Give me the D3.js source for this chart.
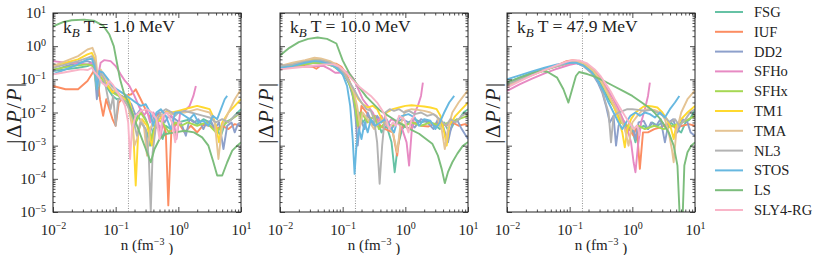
<!DOCTYPE html>
<html>
<head>
<meta charset="utf-8">
<script src="https://cdnjs.cloudflare.com/ajax/libs/d3/7.8.5/d3.min.js"></script>
<style>
  body { margin: 0; background: #fff; }
</style>
</head>
<body>
<div id="chart"></div>
<script>
// Relative pressure difference vs density, three temperatures
// all curve points are [log10 n, log10 |dP/P|]

var eosNames = ["FSG", "IUF", "DD2", "SFHo", "SFHx", "TM1", "TMA", "NL3", "STOS", "LS", "SLY4-RG"];
var eosColors = ["#66c2a5", "#fc8d62", "#8da0cb", "#e78ac3", "#a6d854", "#ffd92f",
                 "#e5c494", "#b3b3b3", "#67b8e0", "#7cbd7c", "#f9b5c8"];
var temps = ["1.0", "10.0", "47.9"];
var nSat = 0.16;
var xTickExps = [-2, -1, 0, 1];
var yTickExps = [1, 0, -1, -2, -3, -4, -5];

var curvesT1 = [
  // FSG
  [[-2,-0.75],[-1.8,-0.7],[-1.6,-0.65],[-1.45,-0.6],[-1.38,-0.55],[-1.32,-0.7],[-1.28,-1.5],[-1.25,-1.0],[-1.2,-1.1],[-1.12,-1.3],[-1.05,-1.5],[-0.98,-1.6],[-0.9,-1.55],[-0.82,-1.7],[-0.75,-2.0],[-0.7,-2.4],[-0.65,-2.1],[-0.58,-2.3],[-0.5,-2.6],[-0.45,-3.0],[-0.4,-2.5],[-0.3,-2.4],[-0.25,-2.8],[-0.2,-2.4],[-0.12,-2.5],[0,-2.3],[0.1,-2.25],[0.2,-2.2],[0.3,-2.35],[0.4,-2.2],[0.5,-2.3],[0.6,-2.5],[0.68,-2.7],[0.75,-2.3],[0.85,-2.2],[0.92,-2.05],[1,-1.9]],
  // IUF
  [[-2,-1.2],[-1.8,-1.3],[-1.6,-1.3],[-1.45,-1.05],[-1.35,-0.75],[-1.3,-0.8],[-1.25,-1.6],[-1.2,-2.1],[-1.15,-1.6],[-1.05,-2.2],[-1.0,-2.4],[-0.95,-1.7],[-0.85,-1.5],[-0.75,-1.45],[-0.68,-1.3],[-0.6,-1.6],[-0.5,-2.0],[-0.4,-2.3],[-0.3,-2.0],[-0.2,-2.6],[-0.16,-4.8],[-0.11,-2.5],[0,-2.3],[0.1,-2.6],[0.2,-2.4],[0.3,-2.6],[0.4,-2.37],[0.5,-2.4],[0.6,-2.5],[0.7,-2.4],[0.8,-2.5],[0.9,-2.35],[1,-2.4]],
  // DD2
  [[-2,-0.75],[-1.8,-0.6],[-1.6,-0.5],[-1.45,-0.45],[-1.38,-0.5],[-1.33,-0.9],[-1.3,-1.6],[-1.27,-1.0],[-1.2,-1.1],[-1.12,-1.2],[-1.05,-1.35],[-0.98,-1.45],[-0.9,-1.5],[-0.82,-1.6],[-0.75,-1.75],[-0.68,-2.1],[-0.6,-1.9],[-0.52,-2.2],[-0.45,-2.6],[-0.38,-2.1],[-0.3,-2.0],[-0.22,-2.3],[-0.15,-2.1],[-0.05,-2.2],[0.05,-2.35],[0.12,-2.7],[0.18,-2.2],[0.25,-2.3],[0.32,-2.2],[0.4,-2.5],[0.45,-2.3],[0.52,-2.25],[0.58,-2.5],[0.65,-2.3],[0.72,-3.1],[0.78,-2.4],[0.85,-2.3],[0.9,-2.6],[0.95,-2.35],[1,-2.4]],
  // SFHo
  [[-2,-0.45],[-1.8,-0.5],[-1.6,-0.52],[-1.45,-0.55],[-1.35,-0.5],[-1.28,-0.9],[-1.24,-0.5],[-1.18,-0.42],[-1.08,-0.45],[-1.0,-0.6],[-0.92,-0.85],[-0.85,-1.05],[-0.78,-1.2],[-0.7,-1.5],[-0.62,-1.85],[-0.55,-2.1],[-0.5,-1.95],[-0.45,-2.3],[-0.4,-2.0],[-0.33,-2.2],[-0.28,-2.7],[-0.22,-2.0],[-0.15,-1.95],[-0.08,-2.2],[-0.03,-2.8],[0.03,-2.0],[0.1,-1.95],[0.18,-1.8],[0.24,-1.5],[0.28,-1.2]],
  // SFHx
  [[-2,-0.7],[-1.7,-0.6],[-1.45,-0.55],[-1.35,-0.6],[-1.3,-1.3],[-1.25,-0.9],[-1.15,-1.15],[-1.05,-1.4],[-0.95,-1.5],[-0.85,-1.65],[-0.75,-1.9],[-0.68,-2.3],[-0.6,-2.0],[-0.5,-2.3],[-0.42,-2.8],[-0.35,-2.2],[-0.25,-2.3],[-0.15,-2.6],[-0.05,-2.3],[0.05,-2.4],[0.15,-2.3],[0.3,-2.4],[0.45,-2.3],[0.6,-2.6],[0.7,-2.4],[0.85,-2.2],[1,-2.0]],
  // TM1
  [[-2,-0.6],[-1.8,-0.5],[-1.6,-0.4],[-1.45,-0.25],[-1.38,-0.2],[-1.33,-0.4],[-1.3,-1.2],[-1.26,-0.8],[-1.2,-0.95],[-1.12,-1.2],[-1.05,-1.4],[-1.0,-1.3],[-0.92,-1.5],[-0.85,-1.6],[-0.8,-1.5],[-0.75,-1.9],[-0.72,-2.5],[-0.68,-4.2],[-0.64,-2.6],[-0.58,-2.2],[-0.5,-2.4],[-0.42,-3.0],[-0.35,-2.3],[-0.25,-2.1],[-0.18,-1.95],[-0.1,-2.0],[0,-1.95],[0.1,-1.9],[0.2,-1.85],[0.3,-1.8],[0.4,-1.85],[0.5,-1.9],[0.55,-2.1],[0.6,-2.4],[0.65,-2.9],[0.7,-2.3],[0.8,-2.0],[0.9,-1.8],[1,-1.6]],
  // TMA
  [[-2,-0.6],[-1.8,-0.45],[-1.6,-0.3],[-1.45,-0.1],[-1.37,-0.05],[-1.32,-0.3],[-1.28,-1.1],[-1.24,-0.7],[-1.18,-0.9],[-1.1,-1.15],[-1.02,-1.3],[-0.95,-1.45],[-0.88,-1.6],[-0.8,-1.8],[-0.74,-2.4],[-0.7,-3.0],[-0.66,-2.8],[-0.6,-2.2],[-0.55,-2.4],[-0.5,-3.3],[-0.45,-2.5],[-0.38,-2.2],[-0.3,-2.1],[-0.2,-2.0],[-0.1,-2.05],[0,-2.0],[0.1,-2.0],[0.2,-1.95],[0.3,-1.9],[0.4,-1.95],[0.5,-2.0],[0.58,-2.3],[0.64,-3.4],[0.7,-2.4],[0.8,-2.0],[0.9,-1.6],[1,-1.3]],
  // NL3
  [[-2,-0.65],[-1.8,-0.55],[-1.6,-0.45],[-1.45,-0.35],[-1.38,-0.3],[-1.33,-0.5],[-1.28,-1.2],[-1.24,-0.8],[-1.18,-1.0],[-1.12,-1.6],[-1.08,-1.9],[-1.04,-1.5],[-1.0,-2.4],[-0.96,-1.6],[-0.9,-1.6],[-0.84,-1.7],[-0.78,-1.9],[-0.72,-2.2],[-0.66,-2.7],[-0.6,-2.3],[-0.52,-2.5],[-0.47,-3.4],[-0.44,-5.0],[-0.41,-3.2],[-0.35,-2.3],[-0.28,-2.0],[-0.2,-1.9],[-0.1,-2.0],[-0.05,-2.1],[0,-2.0],[0.1,-1.95],[0.2,-2.0],[0.3,-2.05],[0.4,-2.1],[0.5,-2.15],[0.6,-2.3],[0.7,-2.2],[0.8,-2.3],[0.9,-2.1],[1,-2.0]],
  // STOS
  [[-2,-0.85],[-1.8,-0.7],[-1.6,-0.55],[-1.45,-0.4],[-1.38,-0.38],[-1.34,-0.6],[-1.3,-1.3],[-1.26,-0.75],[-1.2,-0.8],[-1.12,-1.0],[-1.05,-1.2],[-0.98,-1.3],[-0.9,-1.4],[-0.82,-1.5],[-0.75,-1.6],[-0.68,-1.7],[-0.6,-1.8],[-0.52,-1.75],[-0.45,-2.0],[-0.4,-2.4],[-0.35,-2.0],[-0.28,-1.9],[-0.2,-2.1],[-0.12,-2.5],[-0.05,-2.0],[0.02,-2.0],[0.1,-2.1],[0.18,-2.2],[0.25,-2.05],[0.32,-2.3],[0.4,-2.25],[0.48,-2.4],[0.55,-2.1],[0.62,-2.2],[0.68,-1.9],[0.74,-1.6],[0.78,-1.5]],
  // LS
  [[-2,0.6],[-1.85,0.72],[-1.7,0.78],[-1.5,0.8],[-1.35,0.77],[-1.2,0.62],[-1.1,0.35],[-1.03,0.0],[-0.98,-0.5],[-0.93,-1.0],[-0.87,-1.4],[-0.8,-1.7],[-0.72,-2.1],[-0.62,-2.6],[-0.52,-3.1],[-0.44,-3.5],[-0.38,-3.1],[-0.3,-2.8],[-0.2,-2.65],[-0.05,-2.6],[0.1,-2.55],[0.25,-2.6],[0.38,-2.75],[0.48,-3.0],[0.56,-3.5],[0.62,-3.9],[0.7,-3.9],[0.78,-3.5],[0.86,-3.15],[0.94,-3.0],[1,-2.9]],
  // SLY4-RG
  [[-2,-0.85],[-1.85,-0.8],[-1.7,-0.75],[-1.55,-0.7],[-1.45,-0.72],[-1.38,-0.65],[-1.33,-0.8],[-1.28,-0.9],[-1.22,-1.1],[-1.15,-1.2],[-1.1,-1.05],[-1.05,-1.15],[-1.0,-1.3],[-0.95,-1.45],[-0.9,-1.6],[-0.85,-1.8],[-0.8,-2.3],[-0.77,-3.4],[-0.74,-2.5],[-0.68,-2.1],[-0.6,-1.95],[-0.5,-1.9],[-0.42,-2.0],[-0.35,-2.2],[-0.3,-2.8],[-0.25,-2.1],[-0.18,-2.0],[-0.1,-2.3],[-0.05,-2.9],[0,-2.3],[0.05,-2.3]]
];

var curvesT10 = [
  // FSG
  [[-2,-0.62],[-1.8,-0.6],[-1.6,-0.55],[-1.45,-0.5],[-1.3,-0.52],[-1.15,-0.6],[-1.05,-0.75],[-0.95,-0.95],[-0.88,-1.2],[-0.82,-1.6],[-0.78,-2.3],[-0.74,-2.0],[-0.68,-2.3],[-0.6,-2.1],[-0.52,-2.3],[-0.45,-2.2],[-0.38,-2.6],[-0.3,-2.4],[-0.22,-2.9],[-0.17,-3.8],[-0.12,-3.0],[-0.05,-2.5],[0.05,-2.3],[0.15,-2.2],[0.25,-2.3],[0.35,-2.25],[0.45,-2.35],[0.55,-2.5],[0.62,-2.3],[0.7,-2.6],[0.78,-2.3],[0.86,-2.2],[0.93,-2.0],[1,-1.9]],
  // IUF
  [[-2,-0.62],[-1.8,-0.6],[-1.6,-0.6],[-1.48,-0.62],[-1.42,-0.68],[-1.35,-0.58],[-1.2,-0.52],[-1.1,-0.53],[-1.02,-0.62],[-0.95,-0.8],[-0.88,-1.1],[-0.82,-1.5],[-0.78,-2.0],[-0.74,-2.6],[-0.7,-1.8],[-0.62,-2.0],[-0.55,-2.2],[-0.48,-2.1],[-0.4,-2.4],[-0.32,-2.5],[-0.2,-2.6],[-0.13,-3.3],[-0.08,-2.5],[-0.02,-2.4],[0.08,-2.5],[0.15,-2.3],[0.25,-2.4],[0.37,-2.42],[0.45,-2.35],[0.55,-2.3],[0.65,-2.4],[0.75,-2.3],[0.85,-2.4],[0.95,-2.35],[1,-2.4]],
  // DD2
  [[-2,-0.62],[-1.8,-0.58],[-1.6,-0.52],[-1.45,-0.45],[-1.35,-0.45],[-1.2,-0.55],[-1.08,-0.65],[-0.98,-0.85],[-0.9,-1.1],[-0.84,-1.5],[-0.8,-2.0],[-0.76,-3.0],[-0.72,-2.2],[-0.65,-2.5],[-0.6,-2.0],[-0.52,-2.4],[-0.45,-2.1],[-0.38,-2.3],[-0.3,-2.2],[-0.22,-2.5],[-0.15,-2.3],[-0.05,-2.2],[0.05,-2.3],[0.15,-2.45],[0.25,-2.2],[0.35,-2.3],[0.45,-2.5],[0.52,-2.2],[0.6,-2.4],[0.68,-2.9],[0.75,-2.3],[0.82,-2.2],[0.9,-2.5],[1,-2.8]],
  // SFHo
  [[-2,-0.65],[-1.8,-0.63],[-1.6,-0.62],[-1.45,-0.6],[-1.3,-0.6],[-1.2,-0.7],[-1.12,-0.8],[-1.05,-0.8],[-0.98,-0.75],[-0.9,-0.8],[-0.82,-1.0],[-0.75,-1.3],[-0.68,-1.6],[-0.6,-1.8],[-0.52,-2.0],[-0.45,-2.3],[-0.38,-2.1],[-0.3,-2.4],[-0.22,-2.2],[-0.12,-2.3],[-0.05,-2.5],[0.02,-2.9],[0.06,-3.6],[0.1,-2.6],[0.15,-2.0],[0.2,-1.8],[0.25,-1.5],[0.28,-1.1]],
  // SFHx
  [[-2,-0.63],[-1.7,-0.58],[-1.45,-0.5],[-1.3,-0.5],[-1.15,-0.6],[-1.02,-0.75],[-0.92,-1.0],[-0.85,-1.35],[-0.8,-1.8],[-0.76,-2.4],[-0.7,-2.0],[-0.6,-2.3],[-0.5,-2.1],[-0.42,-2.5],[-0.32,-2.3],[-0.22,-2.4],[-0.1,-2.3],[0,-2.4],[0.1,-2.3],[0.25,-2.4],[0.4,-2.3],[0.55,-2.4],[0.7,-2.3],[0.85,-2.2],[1,-2.1]],
  // TM1
  [[-2,-0.62],[-1.8,-0.55],[-1.6,-0.45],[-1.45,-0.4],[-1.35,-0.42],[-1.2,-0.5],[-1.08,-0.62],[-0.98,-0.8],[-0.9,-1.05],[-0.82,-1.35],[-0.75,-1.6],[-0.68,-1.75],[-0.6,-1.85],[-0.52,-1.8],[-0.45,-1.9],[-0.4,-2.1],[-0.35,-2.3],[-0.3,-2.0],[-0.2,-1.9],[-0.1,-1.85],[0,-1.8],[0.1,-1.78],[0.2,-1.8],[0.3,-1.82],[0.4,-1.85],[0.5,-1.9],[0.56,-2.1],[0.62,-2.6],[0.66,-3.0],[0.7,-2.4],[0.8,-2.1],[0.9,-1.9],[1,-1.7]],
  // TMA
  [[-2,-0.6],[-1.8,-0.5],[-1.6,-0.42],[-1.45,-0.35],[-1.35,-0.37],[-1.2,-0.45],[-1.08,-0.58],[-0.98,-0.8],[-0.9,-1.05],[-0.82,-1.4],[-0.77,-1.8],[-0.72,-2.4],[-0.68,-2.0],[-0.6,-2.2],[-0.5,-2.5],[-0.42,-2.3],[-0.35,-2.2],[-0.28,-2.4],[-0.2,-2.6],[-0.13,-3.2],[-0.08,-2.4],[0,-1.95],[0.1,-1.9],[0.2,-1.92],[0.3,-1.95],[0.4,-2.0],[0.5,-2.1],[0.58,-2.5],[0.63,-3.1],[0.68,-2.5],[0.75,-2.0],[0.85,-1.7],[0.93,-1.5],[1,-1.33]],
  // NL3
  [[-2,-0.6],[-1.8,-0.55],[-1.6,-0.47],[-1.45,-0.42],[-1.35,-0.42],[-1.2,-0.5],[-1.08,-0.62],[-0.98,-0.82],[-0.9,-1.05],[-0.82,-1.3],[-0.75,-1.55],[-0.7,-1.7],[-0.62,-1.9],[-0.55,-1.95],[-0.5,-2.2],[-0.45,-2.9],[-0.41,-4.15],[-0.37,-3.0],[-0.32,-2.0],[-0.25,-1.9],[-0.18,-1.95],[-0.1,-1.9],[-0.02,-2.0],[0.06,-1.95],[0.15,-2.05],[0.25,-2.0],[0.35,-2.1],[0.45,-2.05],[0.55,-2.2],[0.65,-2.4],[0.72,-2.2],[0.8,-2.3],[0.9,-2.1],[1,-2.0]],
  // STOS
  [[-2,-0.65],[-1.8,-0.6],[-1.6,-0.5],[-1.45,-0.45],[-1.35,-0.47],[-1.2,-0.55],[-1.1,-0.65],[-1.0,-0.85],[-0.93,-1.2],[-0.88,-1.8],[-0.84,-2.8],[-0.81,-3.85],[-0.78,-3.0],[-0.74,-2.5],[-0.7,-2.8],[-0.65,-2.3],[-0.6,-2.6],[-0.55,-2.2],[-0.48,-2.4],[-0.4,-2.3],[-0.32,-2.2],[-0.25,-2.4],[-0.18,-2.6],[-0.12,-2.2],[-0.05,-2.1],[0.05,-2.05],[0.15,-2.15],[0.22,-2.4],[0.3,-2.2],[0.4,-2.25],[0.48,-2.5],[0.55,-2.3],[0.62,-2.0],[0.7,-1.7],[0.78,-1.5]],
  // LS
  [[-2,-0.28],[-1.85,-0.05],[-1.7,0.12],[-1.55,0.22],[-1.4,0.26],[-1.25,0.22],[-1.1,0.08],[-1.0,-0.43],[-0.89,-0.83],[-0.78,-1.13],[-0.62,-1.53],[-0.41,-1.93],[-0.2,-2.19],[0.01,-2.44],[0.22,-2.64],[0.43,-2.94],[0.52,-3.3],[0.58,-3.7],[0.63,-4.13],[0.68,-3.8],[0.75,-3.5],[0.83,-3.24],[0.92,-3.0],[1,-2.89]],
  // SLY4-RG
  [[-2,-0.7],[-1.8,-0.66],[-1.6,-0.62],[-1.45,-0.58],[-1.3,-0.55],[-1.15,-0.55],[-1.05,-0.62],[-0.95,-0.78],[-0.85,-1.0],[-0.75,-1.2],[-0.65,-1.35],[-0.55,-1.5],[-0.45,-1.7],[-0.38,-1.9],[-0.32,-2.1],[-0.26,-2.5],[-0.2,-2.3],[-0.15,-2.4],[-0.1,-2.1],[-0.02,-2.2],[0.05,-2.6],[0.1,-2.2],[0.15,-2.1]]
];

var curvesT48 = [
  // FSG
  [[-2,-1.1],[-1.8,-0.95],[-1.6,-0.8],[-1.4,-0.68],[-1.2,-0.57],[-1.0,-0.5],[-0.88,-0.5],[-0.75,-0.6],[-0.62,-0.8],[-0.52,-1.05],[-0.45,-1.35],[-0.38,-1.6],[-0.3,-1.8],[-0.22,-2.1],[-0.15,-2.3],[-0.08,-2.6],[-0.02,-2.4],[0.05,-2.9],[0.1,-2.5],[0.18,-2.4],[0.25,-2.5],[0.32,-2.3],[0.4,-2.4],[0.48,-2.3],[0.55,-2.5],[0.62,-2.3],[0.7,-2.5],[0.78,-2.6],[0.85,-2.3],[0.92,-2.2],[1,-1.9]],
  // IUF
  [[-2,-1.2],[-1.8,-1.02],[-1.6,-0.87],[-1.4,-0.72],[-1.2,-0.58],[-1.05,-0.45],[-0.95,-0.42],[-0.85,-0.45],[-0.72,-0.55],[-0.6,-0.75],[-0.5,-1.0],[-0.42,-1.3],[-0.35,-1.55],[-0.28,-1.8],[-0.2,-2.1],[-0.12,-2.3],[-0.05,-2.5],[0.02,-2.7],[0.07,-2.4],[0.12,-3.7],[0.17,-2.6],[0.25,-2.6],[0.35,-2.5],[0.45,-2.45],[0.55,-2.35],[0.62,-2.4],[0.7,-2.45],[0.8,-2.4],[0.9,-2.35],[1,-2.4]],
  // DD2
  [[-2,-1.12],[-1.8,-0.97],[-1.6,-0.83],[-1.4,-0.7],[-1.2,-0.6],[-1.0,-0.5],[-0.9,-0.5],[-0.78,-0.6],[-0.65,-0.8],[-0.55,-1.1],[-0.48,-1.4],[-0.42,-1.8],[-0.36,-2.3],[-0.3,-2.1],[-0.26,-3.0],[-0.22,-2.4],[-0.16,-2.2],[-0.1,-2.6],[-0.05,-2.3],[0.0,-2.4],[0.05,-2.8],[0.1,-2.3],[0.18,-2.25],[0.25,-2.5],[0.3,-2.3],[0.38,-2.4],[0.45,-2.2],[0.52,-2.9],[0.58,-2.3],[0.65,-2.2],[0.72,-2.6],[0.8,-2.2],[0.88,-2.3],[0.93,-2.6],[1,-2.7]],
  // SFHo
  [[-2,-1.35],[-1.8,-1.15],[-1.6,-0.98],[-1.4,-0.82],[-1.2,-0.68],[-1.0,-0.56],[-0.88,-0.52],[-0.75,-0.58],[-0.62,-0.75],[-0.5,-1.0],[-0.4,-1.3],[-0.3,-1.6],[-0.22,-1.9],[-0.15,-2.2],[-0.08,-2.5],[-0.02,-2.9],[0.02,-3.5],[0.05,-3.8],[0.09,-3.0],[0.14,-2.3],[0.2,-1.9],[0.25,-1.5],[0.28,-1.1]],
  // SFHx
  [[-2,-1.2],[-1.8,-1.02],[-1.6,-0.86],[-1.4,-0.72],[-1.2,-0.6],[-1.0,-0.5],[-0.88,-0.48],[-0.75,-0.58],[-0.62,-0.78],[-0.5,-1.05],[-0.42,-1.35],[-0.34,-1.65],[-0.26,-1.95],[-0.18,-2.3],[-0.1,-2.4],[0,-2.5],[0.1,-2.4],[0.2,-2.5],[0.35,-2.4],[0.5,-2.5],[0.65,-2.4],[0.8,-2.3],[1,-2.1]],
  // TM1
  [[-2,-1.2],[-1.8,-1.02],[-1.6,-0.86],[-1.4,-0.72],[-1.2,-0.58],[-1.0,-0.48],[-0.88,-0.47],[-0.75,-0.55],[-0.62,-0.75],[-0.5,-1.05],[-0.4,-1.4],[-0.3,-1.8],[-0.22,-2.2],[-0.16,-2.6],[-0.12,-3.05],[-0.08,-2.5],[-0.02,-2.2],[0.05,-2.0],[0.12,-1.9],[0.18,-1.82],[0.25,-1.8],[0.32,-1.82],[0.4,-1.85],[0.48,-2.0],[0.55,-2.2],[0.62,-2.5],[0.66,-2.8],[0.7,-2.4],[0.78,-2.2],[0.88,-2.0],[1,-1.8]],
  // TMA
  [[-2,-1.2],[-1.8,-1.02],[-1.6,-0.85],[-1.4,-0.7],[-1.2,-0.57],[-1.0,-0.47],[-0.88,-0.46],[-0.75,-0.54],[-0.62,-0.75],[-0.5,-1.05],[-0.4,-1.4],[-0.3,-1.75],[-0.2,-2.1],[-0.12,-2.5],[-0.06,-3.0],[0.0,-2.3],[0.08,-2.1],[0.15,-1.95],[0.25,-1.9],[0.35,-1.92],[0.45,-2.0],[0.52,-2.2],[0.58,-2.6],[0.63,-3.1],[0.66,-3.5],[0.7,-2.6],[0.78,-2.0],[0.88,-1.6],[1,-1.33]],
  // NL3
  [[-2,-1.15],[-1.8,-0.99],[-1.6,-0.84],[-1.4,-0.71],[-1.2,-0.6],[-1.0,-0.5],[-0.9,-0.5],[-0.78,-0.6],[-0.65,-0.82],[-0.55,-1.05],[-0.48,-1.35],[-0.42,-1.75],[-0.38,-2.0],[-0.34,-2.9],[-0.3,-2.1],[-0.22,-2.0],[-0.15,-1.95],[-0.08,-1.9],[0,-1.9],[0.1,-1.92],[0.2,-1.95],[0.3,-1.92],[0.4,-2.0],[0.5,-2.1],[0.6,-2.3],[0.68,-2.2],[0.75,-2.4],[0.85,-2.2],[0.92,-2.0],[1,-1.9]],
  // STOS
  [[-2,-1.0],[-1.8,-0.88],[-1.6,-0.76],[-1.4,-0.65],[-1.2,-0.55],[-1.0,-0.5],[-0.9,-0.5],[-0.78,-0.58],[-0.65,-0.78],[-0.55,-1.05],[-0.45,-1.4],[-0.38,-1.7],[-0.3,-2.0],[-0.22,-2.3],[-0.16,-2.5],[-0.1,-2.3],[-0.03,-2.1],[0.05,-2.0],[0.12,-2.1],[0.2,-2.0],[0.28,-2.05],[0.36,-2.15],[0.44,-2.0],[0.52,-2.15],[0.6,-1.9],[0.68,-1.7],[0.75,-1.5]],
  // LS
  [[-2,-1.1],[-1.8,-0.95],[-1.6,-0.82],[-1.45,-0.75],[-1.35,-0.78],[-1.2,-0.95],[-1.1,-1.3],[-1.02,-1.7],[-0.96,-1.3],[-0.9,-0.9],[-0.85,-0.78],[-0.72,-0.84],[-0.6,-0.92],[-0.45,-1.05],[-0.3,-1.2],[-0.15,-1.35],[0,-1.5],[0.15,-1.7],[0.3,-1.9],[0.45,-2.2],[0.58,-2.6],[0.66,-3.0],[0.72,-3.6],[0.76,-5.3],[0.8,-5.3],[0.83,-3.6],[0.88,-3.2],[0.94,-3.0],[1,-2.9]],
  // SLY4-RG
  [[-2,-1.25],[-1.8,-1.06],[-1.6,-0.88],[-1.4,-0.72],[-1.2,-0.57],[-1.05,-0.47],[-0.95,-0.42],[-0.85,-0.43],[-0.72,-0.52],[-0.6,-0.7],[-0.5,-0.92],[-0.42,-1.15],[-0.35,-1.35],[-0.28,-1.6],[-0.2,-1.85],[-0.12,-2.1],[-0.05,-2.3],[0.02,-2.5],[0.08,-2.4],[0.12,-2.7]]
];

var panelCurves = [curvesT1, curvesT10, curvesT48];

// layout
var svgWidth = 814;
var svgHeight = 255;
var panelLeft = [53, 280, 507];
var plotTop = 13;
var plotW = 188;
var plotH = 199;
var serif = "Liberation Serif";

var svg = d3.select("#chart")
  .append("svg")
  .attr("width", svgWidth)
  .attr("height", svgHeight)
  .style("font-family", serif);

var x = d3.scaleLog().domain([1e-2, 1e1]).range([0, plotW]);
var y = d3.scaleLog().domain([1e-5, 1e1]).range([plotH, 0]);

var line = d3.line()
  .x(function(d) { return x(Math.pow(10, d[0])); })
  .y(function(d) { return y(Math.pow(10, d[1])); });

var minorX = x.ticks().filter(function(d) { return Math.abs(Math.log10(d) % 1) > 1e-6; });
var minorY = y.ticks().filter(function(d) { return Math.abs(Math.log10(d) % 1) > 1e-6; });
var majorX = xTickExps.map(function(e) { return Math.pow(10, e); });
var majorY = yTickExps.map(function(e) { return Math.pow(10, e); });

// writes 10 with a superscript exponent into axis labels
function powerLabel(sel) {
  sel.each(function(d) {
    var t = d3.select(this);
    var e = Math.round(Math.log10(d));
    t.text("10");
    t.append("tspan")
      .attr("dy", "-0.55em")
      .style("font-size", "10px")
      .text(String(e).replace("-", "\u2212"));
  });
}

function tickAxis(g, axisFn, scale, vals, size, labels) {
  var ax = axisFn(scale).tickValues(vals).tickSizeInner(-size).tickSizeOuter(0).tickPadding(7);
  if (!labels) ax.tickFormat("");
  var a = g.append("g").call(ax);
  a.attr("font-family", null);
  a.select(".domain").remove();
  a.selectAll("line").attr("stroke", "#222").attr("stroke-width", 0.8);
  a.selectAll("text")
    .style("font-family", serif)
    .style("font-size", "15px")
    .attr("fill", "#222");
  return a;
}

panelCurves.forEach(function(curves, p) {
  var g = svg.append("g").attr("transform", "translate(" + panelLeft[p] + "," + plotTop + ")");

  g.append("clipPath").attr("id", "clip" + p)
    .append("rect").attr("width", plotW).attr("height", plotH);

  var plot = g.append("g").attr("clip-path", "url(#clip" + p + ")");

  // saturation density marker
  plot.append("line")
    .attr("x1", x(nSat)).attr("x2", x(nSat))
    .attr("y1", 0).attr("y2", plotH)
    .attr("stroke", "#777")
    .attr("stroke-width", 0.8)
    .attr("stroke-dasharray", "1,1.5");

  plot.selectAll("path.eos")
    .data(curves)
    .enter()
    .append("path")
    .attr("class", "eos")
    .attr("d", line)
    .attr("fill", "none")
    .attr("stroke", function(d, i) { return eosColors[i]; })
    .attr("stroke-width", 1.9)
    .attr("stroke-linejoin", "round");

  // ticks on all four sides, pointing in
  var bx = g.append("g").attr("transform", "translate(0," + plotH + ")");
  tickAxis(bx, d3.axisBottom, x, minorX, 2.5, false);
  var bl = tickAxis(bx, d3.axisBottom, x, majorX, 5, true);
  bl.selectAll("text").attr("dy", "1.05em").call(powerLabel);

  tickAxis(g, d3.axisTop, x, minorX, 2.5, false);
  tickAxis(g, d3.axisTop, x, majorX, 5, false);

  tickAxis(g, d3.axisLeft, y, minorY, 2.5, false);
  var yl = tickAxis(g, d3.axisLeft, y, majorY, 5, p === 0);
  if (p === 0) yl.selectAll("text").attr("dy", "0.3em").call(powerLabel);

  var rx = g.append("g").attr("transform", "translate(" + plotW + ",0)");
  tickAxis(rx, d3.axisRight, y, minorY, 2.5, false);
  tickAxis(rx, d3.axisRight, y, majorY, 5, false);

  g.append("rect")
    .attr("width", plotW).attr("height", plotH)
    .attr("fill", "none").attr("stroke", "#222").attr("stroke-width", 1);

  // panel title
  var title = g.append("text").attr("x", 10).attr("y", 20)
    .style("font-family", serif).style("font-size", "17.5px").attr("fill", "#222");
  title.append("tspan").text("k");
  title.append("tspan").attr("dy", "0.3em").style("font-size", "13px").style("font-style", "italic").text("B");
  title.append("tspan").attr("dy", "-0.3em").text(" T = " + temps[p] + " MeV");

  // x label
  var xl = g.append("text")
    .attr("x", plotW / 2).attr("y", plotH + 38)
    .attr("text-anchor", "middle")
    .style("font-family", serif).style("font-size", "15px").attr("fill", "#222");
  xl.append("tspan").text("n (fm");
  xl.append("tspan").attr("dy", "-0.5em").style("font-size", "10px").text("\u22123");
  xl.append("tspan").attr("dy", "0.5em").text(" )");

  // y label
  var yOff = p === 0 ? -39 : -14;
  var ylab = g.append("text")
    .attr("transform", "translate(" + yOff + "," + (plotH / 2) + ") rotate(-90)")
    .attr("text-anchor", "middle").attr("dy", "0.35em")
    .style("font-family", serif).style("font-size", "21px")
    .style("letter-spacing", "1.5px").attr("fill", "#222");
  ylab.append("tspan").text("|\u0394");
  ylab.append("tspan").style("font-style", "italic").text("P");
  ylab.append("tspan").text("/");
  ylab.append("tspan").style("font-style", "italic").text("P");
  ylab.append("tspan").text("|");
});

// Legend
var legend = svg.append("g").attr("transform", "translate(715,12)");
var rows = legend.selectAll("g")
  .data(eosNames)
  .enter()
  .append("g")
  .attr("transform", function(d, i) { return "translate(0," + (i * 19.8) + ")"; });
rows.append("line")
  .attr("x1", 0).attr("x2", 28)
  .attr("stroke", function(d, i) { return eosColors[i]; })
  .attr("stroke-width", 2);
rows.append("text")
  .attr("x", 39).attr("dy", "0.35em")
  .style("font-family", serif).style("font-size", "14.5px").attr("fill", "#222")
  .text(function(d) { return d; });
</script>
</body>
</html>
